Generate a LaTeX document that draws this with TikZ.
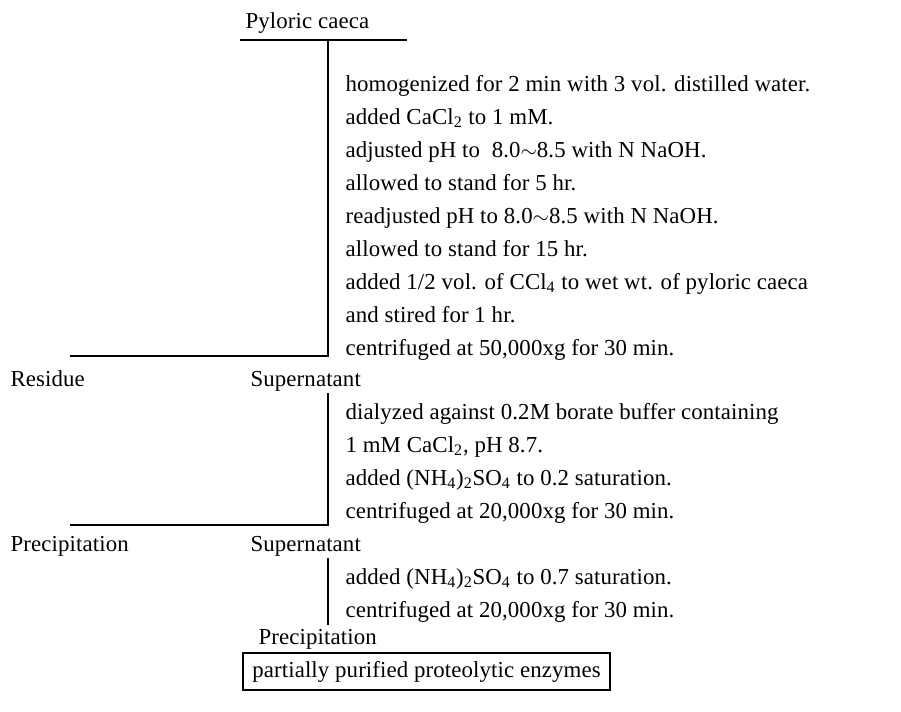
\documentclass[tikz,border=0pt]{standalone}
\usepackage{fontspec}
\setmainfont{Liberation Serif}[LetterSpace=0.5]
\tikzset{
  txt/.style={anchor=base west,inner sep=0pt,font=\fontsize{13}{15}\selectfont},
  enzbox/.style={draw,anchor=center,inner sep=0pt,minimum width=7.34cm,minimum height=0.74cm,font=\fontsize{13}{15}\selectfont}
}
\begin{document}
\begin{tikzpicture}[line width=0.7pt]
\useasboundingbox (0,0) rectangle (18.02,-14.22);
\node[txt] (pc) at (4.9,-0.56) {Pyloric caeca};
\coordinate (a1) at (4.8,-0.8);
\coordinate (a2) at (8.14,-0.8);
\coordinate (a3) at (6.56,-0.8);
\coordinate (a4) at (6.56,-7.12);
\coordinate (a5) at (1.4,-7.12);
\draw (a1)--(a2);
\draw (a3)--(a4)--(a5);
\node[txt] (s1) at (6.9,-1.82) {homogenized for 2 min with 3 vol. distilled water.};
\node[txt] (s2) at (6.9,-2.48) {added CaCl\textsubscript{2} to 1 mM.};
\node[txt] (s3) at (6.9,-3.14) {adjusted pH to \ 8.0$\sim$8.5 with N NaOH.};
\node[txt] (s4) at (6.9,-3.8) {allowed to stand for 5 hr.};
\node[txt] (s5) at (6.9,-4.46) {readjusted pH to 8.0$\sim$8.5 with N NaOH.};
\node[txt] (s6) at (6.9,-5.12) {allowed to stand for 15 hr.};
\node[txt] (s7) at (6.9,-5.78) {added 1/2 vol. of CCl\textsubscript{4} to wet wt. of pyloric caeca};
\node[txt] (s8) at (6.9,-6.44) {and stired for 1 hr.};
\node[txt] (s9) at (6.9,-7.1) {centrifuged at 50,000xg for 30 min.};
\node[txt] (res) at (0.2,-7.72) {Residue};
\node[txt] (sup1) at (5.0,-7.72) {Supernatant};
\coordinate (b1) at (6.56,-7.86);
\coordinate (b2) at (6.56,-10.5);
\coordinate (b3) at (1.4,-10.5);
\draw (b1)--(b2)--(b3);
\node[txt] (d1) at (6.9,-8.38) {dialyzed against 0.2M borate buffer containing};
\node[txt] (d2) at (6.9,-9.04) {1 mM CaCl\textsubscript{2}, pH 8.7.};
\node[txt] (d3) at (6.9,-9.7) {added (NH\textsubscript{4})\textsubscript{2}SO\textsubscript{4} to 0.2 saturation.};
\node[txt] (d4) at (6.9,-10.36) {centrifuged at 20,000xg for 30 min.};
\node[txt] (ppt1) at (0.2,-11.02) {Precipitation};
\node[txt] (sup2) at (5.0,-11.02) {Supernatant};
\coordinate (c1) at (6.56,-11.16);
\coordinate (c2) at (6.56,-12.5);
\draw (c1)--(c2);
\node[txt] (e1) at (6.9,-11.68) {added (NH\textsubscript{4})\textsubscript{2}SO\textsubscript{4} to 0.7 saturation.};
\node[txt] (e2) at (6.9,-12.34) {centrifuged at 20,000xg for 30 min.};
\node[txt] (ppt2) at (5.16,-12.88) {Precipitation};
\node[enzbox] (enz) at (8.53,-13.43) {partially purified proteolytic enzymes};
\end{tikzpicture}
\end{document}
